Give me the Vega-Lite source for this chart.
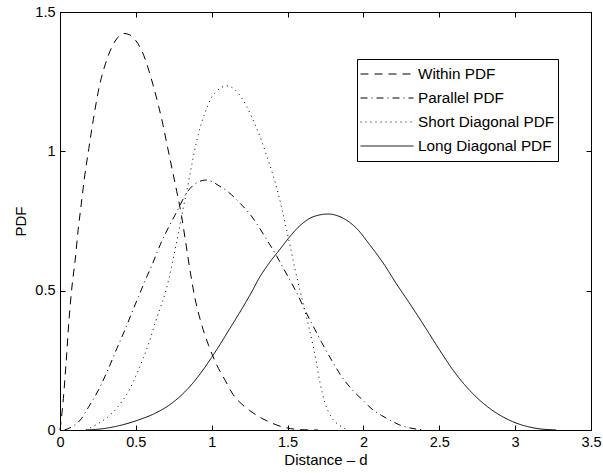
{
  "$schema": "https://vega.github.io/schema/vega-lite/v6.json",
  "width": 531,
  "height": 418,
  "autosize": {"type": "none"},
  "padding": {"left": 60, "top": 12, "right": 12, "bottom": 43},
  "background": "white",
  "config": {
    "view": {"stroke": "black", "strokeWidth": 1},
    "font": "Liberation Sans",
    "axis": {
      "domainColor": "black", "domainWidth": 1,
      "tickColor": "black", "tickWidth": 1, "tickSize": -5,
      "labelColor": "black", "titleColor": "black",
      "labelFont": "Liberation Sans", "titleFont": "Liberation Sans",
      "labelFontSize": 14.5, "titleFontSize": 15, "titleFontWeight": "normal",
      "grid": false, "labelFlush": false, "labelOverlap": false
    },
    "legend": {
      "orient": "none", "legendX": 297, "legendY": 47,
      "symbolType": "stroke", "symbolSize": 2809, "symbolStrokeWidth": 1,
      "symbolStrokeColor": "black", "clipHeight": 24, "rowPadding": 0,
      "padding": 3, "fillColor": "white", "strokeColor": "black",
      "labelFontSize": 15.3, "labelFont": "Liberation Sans", "labelOffset": 4,
      "labelColor": "black", "direction": "vertical"
    }
  },
  "data": {"values": [
    {"series": "Within PDF", "d": 0, "pdf": 0},
    {"series": "Within PDF", "d": 0.02, "pdf": 0.1},
    {"series": "Within PDF", "d": 0.04, "pdf": 0.24},
    {"series": "Within PDF", "d": 0.06, "pdf": 0.4},
    {"series": "Within PDF", "d": 0.08, "pdf": 0.52},
    {"series": "Within PDF", "d": 0.1, "pdf": 0.61},
    {"series": "Within PDF", "d": 0.12, "pdf": 0.72},
    {"series": "Within PDF", "d": 0.14, "pdf": 0.81},
    {"series": "Within PDF", "d": 0.16, "pdf": 0.9},
    {"series": "Within PDF", "d": 0.19, "pdf": 1.01},
    {"series": "Within PDF", "d": 0.22, "pdf": 1.115},
    {"series": "Within PDF", "d": 0.26, "pdf": 1.235},
    {"series": "Within PDF", "d": 0.3, "pdf": 1.315},
    {"series": "Within PDF", "d": 0.34, "pdf": 1.372},
    {"series": "Within PDF", "d": 0.38, "pdf": 1.408},
    {"series": "Within PDF", "d": 0.42, "pdf": 1.423},
    {"series": "Within PDF", "d": 0.46, "pdf": 1.418},
    {"series": "Within PDF", "d": 0.5, "pdf": 1.397},
    {"series": "Within PDF", "d": 0.54, "pdf": 1.36},
    {"series": "Within PDF", "d": 0.58, "pdf": 1.3},
    {"series": "Within PDF", "d": 0.62, "pdf": 1.225},
    {"series": "Within PDF", "d": 0.65, "pdf": 1.162},
    {"series": "Within PDF", "d": 0.68, "pdf": 1.092},
    {"series": "Within PDF", "d": 0.71, "pdf": 1.012},
    {"series": "Within PDF", "d": 0.74, "pdf": 0.934},
    {"series": "Within PDF", "d": 0.77, "pdf": 0.855},
    {"series": "Within PDF", "d": 0.8, "pdf": 0.772},
    {"series": "Within PDF", "d": 0.83, "pdf": 0.668},
    {"series": "Within PDF", "d": 0.86, "pdf": 0.563},
    {"series": "Within PDF", "d": 0.89, "pdf": 0.472},
    {"series": "Within PDF", "d": 0.93, "pdf": 0.385},
    {"series": "Within PDF", "d": 0.98, "pdf": 0.303},
    {"series": "Within PDF", "d": 1.03, "pdf": 0.237},
    {"series": "Within PDF", "d": 1.09, "pdf": 0.177},
    {"series": "Within PDF", "d": 1.14, "pdf": 0.128},
    {"series": "Within PDF", "d": 1.2, "pdf": 0.092},
    {"series": "Within PDF", "d": 1.25, "pdf": 0.07},
    {"series": "Within PDF", "d": 1.33, "pdf": 0.042},
    {"series": "Within PDF", "d": 1.4, "pdf": 0.024},
    {"series": "Within PDF", "d": 1.46, "pdf": 0.012},
    {"series": "Within PDF", "d": 1.52, "pdf": 0.005},
    {"series": "Within PDF", "d": 1.6, "pdf": 0.001},
    {"series": "Within PDF", "d": 1.7, "pdf": 0},
    {"series": "Parallel PDF", "d": 0.03, "pdf": 0},
    {"series": "Parallel PDF", "d": 0.08, "pdf": 0.012},
    {"series": "Parallel PDF", "d": 0.134, "pdf": 0.036},
    {"series": "Parallel PDF", "d": 0.19, "pdf": 0.084},
    {"series": "Parallel PDF", "d": 0.254, "pdf": 0.144},
    {"series": "Parallel PDF", "d": 0.32, "pdf": 0.221},
    {"series": "Parallel PDF", "d": 0.375, "pdf": 0.293},
    {"series": "Parallel PDF", "d": 0.43, "pdf": 0.362},
    {"series": "Parallel PDF", "d": 0.484, "pdf": 0.435},
    {"series": "Parallel PDF", "d": 0.517, "pdf": 0.478},
    {"series": "Parallel PDF", "d": 0.56, "pdf": 0.535},
    {"series": "Parallel PDF", "d": 0.605, "pdf": 0.59},
    {"series": "Parallel PDF", "d": 0.66, "pdf": 0.664},
    {"series": "Parallel PDF", "d": 0.715, "pdf": 0.727},
    {"series": "Parallel PDF", "d": 0.758, "pdf": 0.771},
    {"series": "Parallel PDF", "d": 0.791, "pdf": 0.807},
    {"series": "Parallel PDF", "d": 0.836, "pdf": 0.852},
    {"series": "Parallel PDF", "d": 0.88, "pdf": 0.879},
    {"series": "Parallel PDF", "d": 0.92, "pdf": 0.892},
    {"series": "Parallel PDF", "d": 0.96, "pdf": 0.897},
    {"series": "Parallel PDF", "d": 1.0, "pdf": 0.892},
    {"series": "Parallel PDF", "d": 1.04, "pdf": 0.879},
    {"series": "Parallel PDF", "d": 1.1, "pdf": 0.858},
    {"series": "Parallel PDF", "d": 1.19, "pdf": 0.812},
    {"series": "Parallel PDF", "d": 1.25, "pdf": 0.776},
    {"series": "Parallel PDF", "d": 1.3, "pdf": 0.738},
    {"series": "Parallel PDF", "d": 1.36, "pdf": 0.685},
    {"series": "Parallel PDF", "d": 1.405, "pdf": 0.646},
    {"series": "Parallel PDF", "d": 1.46, "pdf": 0.593},
    {"series": "Parallel PDF", "d": 1.515, "pdf": 0.538},
    {"series": "Parallel PDF", "d": 1.56, "pdf": 0.493},
    {"series": "Parallel PDF", "d": 1.614, "pdf": 0.431},
    {"series": "Parallel PDF", "d": 1.68, "pdf": 0.361},
    {"series": "Parallel PDF", "d": 1.724, "pdf": 0.315},
    {"series": "Parallel PDF", "d": 1.79, "pdf": 0.251},
    {"series": "Parallel PDF", "d": 1.855, "pdf": 0.193},
    {"series": "Parallel PDF", "d": 1.92, "pdf": 0.148},
    {"series": "Parallel PDF", "d": 1.99, "pdf": 0.11},
    {"series": "Parallel PDF", "d": 2.05, "pdf": 0.078},
    {"series": "Parallel PDF", "d": 2.12, "pdf": 0.052},
    {"series": "Parallel PDF", "d": 2.18, "pdf": 0.034},
    {"series": "Parallel PDF", "d": 2.24, "pdf": 0.018},
    {"series": "Parallel PDF", "d": 2.32, "pdf": 0.006},
    {"series": "Parallel PDF", "d": 2.4, "pdf": 0},
    {"series": "Short Diagonal PDF", "d": 0.17, "pdf": 0},
    {"series": "Short Diagonal PDF", "d": 0.254, "pdf": 0.024},
    {"series": "Short Diagonal PDF", "d": 0.331, "pdf": 0.054},
    {"series": "Short Diagonal PDF", "d": 0.408, "pdf": 0.102},
    {"series": "Short Diagonal PDF", "d": 0.463, "pdf": 0.15},
    {"series": "Short Diagonal PDF", "d": 0.507, "pdf": 0.203},
    {"series": "Short Diagonal PDF", "d": 0.55, "pdf": 0.26},
    {"series": "Short Diagonal PDF", "d": 0.594, "pdf": 0.326},
    {"series": "Short Diagonal PDF", "d": 0.627, "pdf": 0.384},
    {"series": "Short Diagonal PDF", "d": 0.66, "pdf": 0.437},
    {"series": "Short Diagonal PDF", "d": 0.693, "pdf": 0.49},
    {"series": "Short Diagonal PDF", "d": 0.72, "pdf": 0.548},
    {"series": "Short Diagonal PDF", "d": 0.75, "pdf": 0.625},
    {"series": "Short Diagonal PDF", "d": 0.78, "pdf": 0.705},
    {"series": "Short Diagonal PDF", "d": 0.81, "pdf": 0.79},
    {"series": "Short Diagonal PDF", "d": 0.84, "pdf": 0.87},
    {"series": "Short Diagonal PDF", "d": 0.87, "pdf": 0.955},
    {"series": "Short Diagonal PDF", "d": 0.9, "pdf": 1.035},
    {"series": "Short Diagonal PDF", "d": 0.93, "pdf": 1.097},
    {"series": "Short Diagonal PDF", "d": 0.963, "pdf": 1.148},
    {"series": "Short Diagonal PDF", "d": 0.995, "pdf": 1.19},
    {"series": "Short Diagonal PDF", "d": 1.022, "pdf": 1.21},
    {"series": "Short Diagonal PDF", "d": 1.055, "pdf": 1.226},
    {"series": "Short Diagonal PDF", "d": 1.099, "pdf": 1.235},
    {"series": "Short Diagonal PDF", "d": 1.142, "pdf": 1.226},
    {"series": "Short Diagonal PDF", "d": 1.175, "pdf": 1.208},
    {"series": "Short Diagonal PDF", "d": 1.226, "pdf": 1.166},
    {"series": "Short Diagonal PDF", "d": 1.263, "pdf": 1.124},
    {"series": "Short Diagonal PDF", "d": 1.296, "pdf": 1.083},
    {"series": "Short Diagonal PDF", "d": 1.33, "pdf": 1.036},
    {"series": "Short Diagonal PDF", "d": 1.362, "pdf": 0.985},
    {"series": "Short Diagonal PDF", "d": 1.405, "pdf": 0.913},
    {"series": "Short Diagonal PDF", "d": 1.438, "pdf": 0.849},
    {"series": "Short Diagonal PDF", "d": 1.465, "pdf": 0.788},
    {"series": "Short Diagonal PDF", "d": 1.493, "pdf": 0.72},
    {"series": "Short Diagonal PDF", "d": 1.52, "pdf": 0.652},
    {"series": "Short Diagonal PDF", "d": 1.55, "pdf": 0.575},
    {"series": "Short Diagonal PDF", "d": 1.58, "pdf": 0.505},
    {"series": "Short Diagonal PDF", "d": 1.61, "pdf": 0.437},
    {"series": "Short Diagonal PDF", "d": 1.64, "pdf": 0.37},
    {"series": "Short Diagonal PDF", "d": 1.668, "pdf": 0.302},
    {"series": "Short Diagonal PDF", "d": 1.691, "pdf": 0.239},
    {"series": "Short Diagonal PDF", "d": 1.713, "pdf": 0.172},
    {"series": "Short Diagonal PDF", "d": 1.745, "pdf": 0.1},
    {"series": "Short Diagonal PDF", "d": 1.789, "pdf": 0.046},
    {"series": "Short Diagonal PDF", "d": 1.844, "pdf": 0.016},
    {"series": "Short Diagonal PDF", "d": 1.9, "pdf": 0},
    {"series": "Long Diagonal PDF", "d": 0.17, "pdf": 0},
    {"series": "Long Diagonal PDF", "d": 0.3, "pdf": 0.006},
    {"series": "Long Diagonal PDF", "d": 0.408, "pdf": 0.018},
    {"series": "Long Diagonal PDF", "d": 0.517, "pdf": 0.036},
    {"series": "Long Diagonal PDF", "d": 0.627, "pdf": 0.06},
    {"series": "Long Diagonal PDF", "d": 0.737, "pdf": 0.096},
    {"series": "Long Diagonal PDF", "d": 0.846, "pdf": 0.15},
    {"series": "Long Diagonal PDF", "d": 0.934, "pdf": 0.209},
    {"series": "Long Diagonal PDF", "d": 1.0, "pdf": 0.261},
    {"series": "Long Diagonal PDF", "d": 1.055, "pdf": 0.307},
    {"series": "Long Diagonal PDF", "d": 1.109, "pdf": 0.355},
    {"series": "Long Diagonal PDF", "d": 1.197, "pdf": 0.433},
    {"series": "Long Diagonal PDF", "d": 1.26, "pdf": 0.492},
    {"series": "Long Diagonal PDF", "d": 1.318, "pdf": 0.55},
    {"series": "Long Diagonal PDF", "d": 1.38, "pdf": 0.6},
    {"series": "Long Diagonal PDF", "d": 1.449, "pdf": 0.648},
    {"series": "Long Diagonal PDF", "d": 1.515, "pdf": 0.694},
    {"series": "Long Diagonal PDF", "d": 1.581, "pdf": 0.733},
    {"series": "Long Diagonal PDF", "d": 1.668, "pdf": 0.765},
    {"series": "Long Diagonal PDF", "d": 1.767, "pdf": 0.775},
    {"series": "Long Diagonal PDF", "d": 1.866, "pdf": 0.76},
    {"series": "Long Diagonal PDF", "d": 1.954, "pdf": 0.724},
    {"series": "Long Diagonal PDF", "d": 2.041, "pdf": 0.665},
    {"series": "Long Diagonal PDF", "d": 2.129, "pdf": 0.6},
    {"series": "Long Diagonal PDF", "d": 2.217, "pdf": 0.525},
    {"series": "Long Diagonal PDF", "d": 2.316, "pdf": 0.445},
    {"series": "Long Diagonal PDF", "d": 2.41, "pdf": 0.366},
    {"series": "Long Diagonal PDF", "d": 2.502, "pdf": 0.287},
    {"series": "Long Diagonal PDF", "d": 2.6, "pdf": 0.208},
    {"series": "Long Diagonal PDF", "d": 2.699, "pdf": 0.143},
    {"series": "Long Diagonal PDF", "d": 2.831, "pdf": 0.078},
    {"series": "Long Diagonal PDF", "d": 2.984, "pdf": 0.03},
    {"series": "Long Diagonal PDF", "d": 3.138, "pdf": 0.006},
    {"series": "Long Diagonal PDF", "d": 3.27, "pdf": 0}
  ]},
  "layer": [
    {
      "mark": {"type": "line", "strokeWidth": 1, "color": "black", "interpolate": "monotone"},
      "encoding": {
        "x": {"field": "d", "type": "quantitative",
              "scale": {"domain": [0, 3.5], "nice": false},
              "axis": {"orient": "bottom", "values": [0, 0.5, 1, 1.5, 2, 2.5, 3, 3.5], "format": "~g",
                       "title": "Distance – d", "labelPadding": 10, "titlePadding": 4}},
        "y": {"field": "pdf", "type": "quantitative",
              "scale": {"domain": [0, 1.5], "nice": false},
              "axis": {"orient": "left", "values": [0, 0.5, 1, 1.5], "format": "~g",
                       "title": "PDF", "labelPadding": 10, "titlePadding": 6}},
        "strokeDash": {"field": "series", "type": "nominal",
                       "scale": {"domain": ["Within PDF", "Parallel PDF", "Short Diagonal PDF", "Long Diagonal PDF"],
                                 "range": [[8, 6], [7, 4, 1, 4], [1, 4], [1, 0]]},
                       "legend": {"title": null}}
      }
    },
    {
      "mark": {"type": "line", "strokeOpacity": 0, "interpolate": "monotone"},
      "encoding": {
        "x": {"field": "d", "type": "quantitative",
              "axis": {"orient": "top", "values": [0, 0.5, 1, 1.5, 2, 2.5, 3, 3.5], "labels": false, "title": null}},
        "y": {"field": "pdf", "type": "quantitative",
              "axis": {"orient": "right", "values": [0, 0.5, 1, 1.5], "labels": false, "title": null}},
        "detail": {"field": "series", "type": "nominal"}
      }
    }
  ],
  "resolve": {"axis": {"x": "independent", "y": "independent"}}
}
